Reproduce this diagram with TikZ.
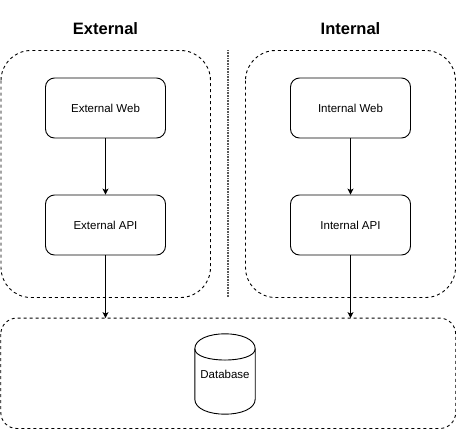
\documentclass[tikz,border=0pt]{standalone}
\usepackage{fontspec}
\setmainfont{Liberation Sans}
\usetikzlibrary{arrows.meta}
\begin{document}
\begin{tikzpicture}[x=1pt,y=-1pt,
  groupbox/.style={draw,line width=0.9pt,dash pattern=on 3pt off 3pt,rounded corners=#1},
  svcbox/.style={draw,line width=0.9pt,rounded corners=9pt,minimum width=120pt,minimum height=60pt,inner sep=0pt,font=\fontsize{11.5}{13}\selectfont},
  title/.style={font=\fontsize{16.5}{19}\selectfont\bfseries},
  conn/.style={line width=0.9pt,-{Stealth[length=6pt,width=6pt,inset=1.5pt]}},
  sep/.style={line width=1.6pt,black!65,dash pattern=on 0.8pt off 0.8pt}]
\useasboundingbox (0,0) rectangle (456,429);
% groups
\draw[groupbox=30pt] (1,50.5) rectangle (210.5,297.5);
\draw[groupbox=30pt] (245.5,50.5) rectangle (455.5,297.5);
\node[draw=none,minimum width=454.5pt,minimum height=110pt,inner sep=0pt] (bottom) at (228.25,373.3) {};
\draw[groupbox=16pt] (bottom.north west) rectangle (bottom.south east);
% separator
\coordinate (septop) at (228,50);
\coordinate (sepbot) at (228,297);
\draw[sep] (septop) -- (sepbot);
% titles
\node[title] (exttitle) at (105.5,29) {External};
\node[title] (inttitle) at (350.5,29) {Internal};
% services
\node[svcbox] (extweb) at (105.5,108) {External Web};
\node[svcbox] (extapi) at (105.5,225) {External API};
\node[svcbox] (intweb) at (350.5,108) {Internal Web};
\node[svcbox] (intapi) at (350.5,225) {Internal API};
% database
\node[minimum width=60pt,minimum height=80pt,inner sep=0pt,font=\fontsize{11.5}{13}\selectfont] (db) at (225,374) {Database};
\draw[line width=0.9pt]
  ([yshift=-15pt]db.north west) .. controls ([yshift=5pt]db.north west) and ([yshift=5pt]db.north east) .. ([yshift=-15pt]db.north east)
  -- ([yshift=15pt]db.south east) .. controls ([yshift=-5pt]db.south east) and ([yshift=-5pt]db.south west) .. ([yshift=15pt]db.south west) -- cycle;
\draw[line width=0.9pt]
  ([yshift=-15pt]db.north west) .. controls ([yshift=-30pt]db.north west) and ([yshift=-30pt]db.north east) .. ([yshift=-15pt]db.north east);
% connectors
\draw[conn] (extweb) -- (extapi);
\draw[conn] (intweb) -- (intapi);
\draw[conn] (extapi.south) -- (extapi.south |- bottom.north);
\draw[conn] (intapi.south) -- (intapi.south |- bottom.north);
\end{tikzpicture}
\end{document}
